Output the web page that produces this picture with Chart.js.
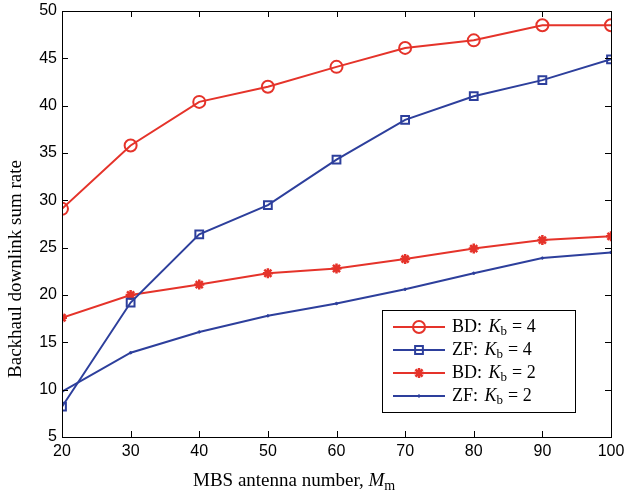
<!DOCTYPE html>
<html>
<head>
<meta charset="utf-8">
<script src="https://cdn.jsdelivr.net/npm/chart.js@4.4.1/dist/chart.umd.min.js"></script>
<style>
  html, body { margin: 0; padding: 0; background: #fff; }
  #wrap { width: 624px; height: 493px; }
</style>
</head>
<body>
<div id="wrap"><canvas id="myChart" width="624" height="493"></canvas></div>
<script>
const antennas = [20, 30, 40, 50, 60, 70, 80, 90, 100];
const bdK4 = [29.1, 35.8, 40.4, 42.0, 44.1, 46.1, 46.9, 48.5, 48.5];
const zfK4 = [8.2, 19.2, 26.4, 29.5, 34.3, 38.5, 41.0, 42.7, 44.9];
const bdK2 = [17.6, 20.0, 21.1, 22.3, 22.8, 23.8, 24.9, 25.8, 26.2];
const zfK2 = [9.8, 13.9, 16.1, 17.8, 19.1, 20.6, 22.3, 23.9, 24.5];
const yTicks = [5, 10, 15, 20, 25, 30, 35, 40, 45, 50];
const legendNames = ["BD", "ZF", "BD", "ZF"];
const legendK = ["4", "4", "2", "2"];

const red = "#e5332a";
const blue = "#2d3f9c";
const serif = "'Liberation Serif'";
const toXY = (arr) => arr.map((v, i) => ({ x: antennas[i], y: v }));

// frame, inside ticks, axis titles and the legend box
const matlabFrame = {
  id: "matlabFrame",
  afterDraw(chart) {
    const ctx = chart.ctx;
    const a = chart.chartArea;
    const xs = chart.scales.x, ys = chart.scales.y;
    ctx.save();
    ctx.strokeStyle = "#000";
    ctx.lineWidth = 1;
    ctx.strokeRect(a.left + 0.5, a.top + 0.5, a.right - a.left, a.bottom - a.top);
    ctx.beginPath();
    antennas.forEach((v) => {
      const px = Math.round(xs.getPixelForValue(v)) + 0.5;
      ctx.moveTo(px, a.bottom); ctx.lineTo(px, a.bottom - 6);
      ctx.moveTo(px, a.top); ctx.lineTo(px, a.top + 6);
    });
    yTicks.forEach((v) => {
      const py = Math.round(ys.getPixelForValue(v)) + 0.5;
      ctx.moveTo(a.left, py); ctx.lineTo(a.left + 6, py);
      ctx.moveTo(a.right, py); ctx.lineTo(a.right - 6, py);
    });
    ctx.stroke();

    // x title: MBS antenna number, M_m
    ctx.fillStyle = "#000";
    ctx.textBaseline = "alphabetic";
    let tx = 193;
    ctx.font = "19px " + serif;
    ctx.fillText("MBS antenna number, ", tx, 486);
    tx += ctx.measureText("MBS antenna number, ").width;
    ctx.font = "italic 19px " + serif;
    ctx.fillText("M", tx, 486);
    tx += ctx.measureText("M").width;
    ctx.font = "14px " + serif;
    ctx.fillText("m", tx, 490);

    // y title
    ctx.save();
    ctx.translate(21, 269);
    ctx.rotate(-Math.PI / 2);
    ctx.font = "19px " + serif;
    ctx.textAlign = "center";
    ctx.fillText("Backhaul downlink sum rate", 0, 0);
    ctx.restore();

    // legend
    const bx = 382.5, by = 310.5, bw = 193, bh = 102;
    ctx.fillStyle = "#fff";
    ctx.fillRect(bx, by, bw, bh);
    ctx.strokeStyle = "#000";
    ctx.lineWidth = 1;
    ctx.strokeRect(bx, by, bw, bh);
    chart.data.datasets.forEach((ds, i) => {
      const yy = 327 + i * 23;
      ctx.strokeStyle = ds.borderColor;
      ctx.lineWidth = 2;
      ctx.beginPath();
      ctx.moveTo(393, yy); ctx.lineTo(445, yy);
      ctx.stroke();
      ctx.fillStyle = ds.pointBackgroundColor;
      ctx.strokeStyle = ds.pointBorderColor;
      ctx.lineWidth = ds.pointBorderWidth;
      Chart.helpers.drawPoint(ctx, {
        pointStyle: ds.pointStyle,
        radius: ds.pointRadius,
        borderWidth: ds.pointBorderWidth
      }, 419, yy);
      ctx.fillStyle = "#000";
      ctx.textBaseline = "middle";
      let lx = 452;
      ctx.font = "18px " + serif;
      const lead = legendNames[i] + ": ";
      ctx.fillText(lead, lx, yy);
      lx += ctx.measureText(lead).width + 2;
      ctx.font = "italic 18px " + serif;
      ctx.fillText("K", lx, yy);
      lx += ctx.measureText("K").width;
      ctx.font = "13px " + serif;
      ctx.fillText("b", lx, yy + 5);
      lx += ctx.measureText("b").width + 5;
      ctx.font = "18px " + serif;
      ctx.fillText("= " + legendK[i], lx, yy);
    });
    ctx.restore();
  }
};

function series(data, color, style, radius, bw, fill) {
  return {
    data: toXY(data),
    borderColor: color,
    backgroundColor: fill,
    borderWidth: 2,
    pointStyle: style,
    pointRadius: radius,
    pointHoverRadius: radius,
    pointBorderColor: color,
    pointBackgroundColor: fill,
    pointBorderWidth: bw,
    tension: 0
  };
}

const ctx = document.getElementById("myChart");
const myChart = new Chart(ctx, {
  type: "line",
  data: {
    datasets: [
      series(bdK4, red, "circle", 6, 2, "rgba(0,0,0,0)"),
      series(zfK4, blue, "rect", 5.5, 2, "rgba(0,0,0,0)"),
      series(bdK2, red, "star", 5, 2.5, red),
      series(zfK2, blue, "circle", 1.2, 1, blue)
    ]
  },
  options: {
    responsive: false,
    animation: false,
    layout: { padding: { top: 11, right: 13, left: 0, bottom: 0 } },
    plugins: { legend: { display: false }, tooltip: { enabled: false } },
    scales: {
      x: {
        type: "linear",
        min: 20,
        max: 100,
        afterFit: (s) => { s.height = 56; s.paddingRight = 0; s.paddingLeft = 0; },
        afterBuildTicks: (s) => { s.ticks = antennas.map((v) => ({ value: v })); },
        grid: { display: false, drawTicks: false },
        border: { display: false },
        ticks: { color: "#000", font: { family: "'Liberation Sans'", size: 16 }, padding: 5, maxRotation: 0 }
      },
      y: {
        min: 5,
        max: 50,
        afterFit: (s) => { s.width = 62; s.paddingTop = 0; s.paddingBottom = 0; },
        afterBuildTicks: (s) => { s.ticks = yTicks.map((v) => ({ value: v })); },
        grid: { display: false, drawTicks: false },
        border: { display: false },
        ticks: { color: "#000", font: { family: "'Liberation Sans'", size: 16 }, padding: 5 }
      }
    }
  },
  plugins: [matlabFrame]
});
</script>
</body>
</html>
